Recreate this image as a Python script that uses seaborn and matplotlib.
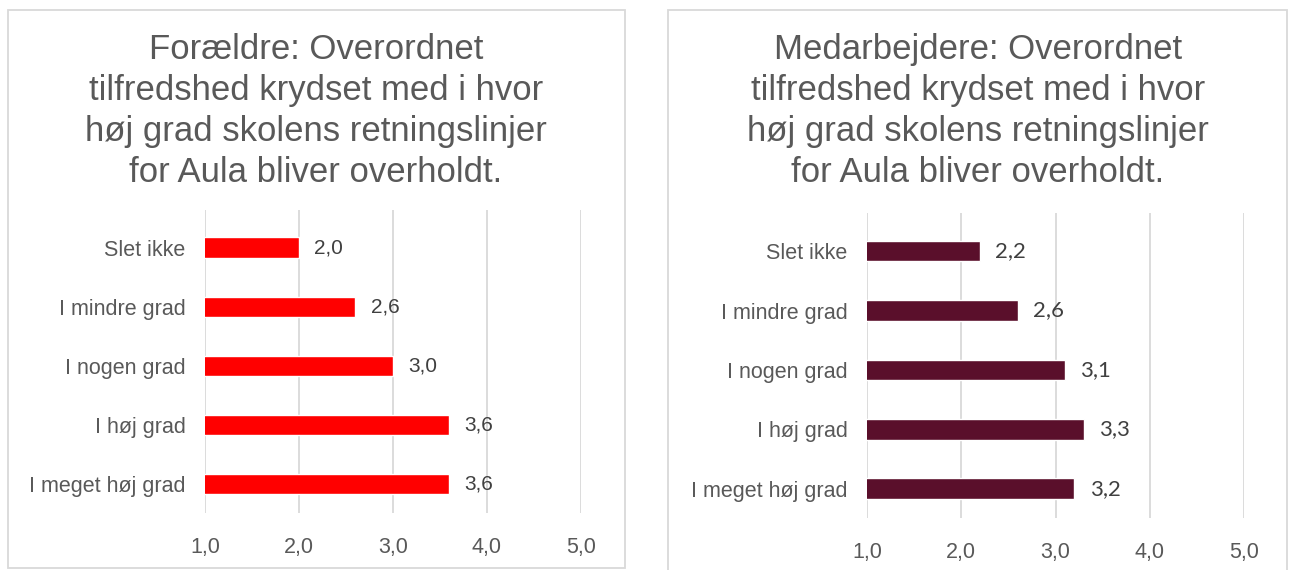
import pandas as pd
import seaborn as sns
import matplotlib.pyplot as plt
from matplotlib.patches import Rectangle

categories = ['Slet ikke', 'I mindre grad', 'I nogen grad', 'I høj grad', 'I meget høj grad']
parents = [2.0, 2.6, 3.0, 3.6, 3.6]
staff = [2.2, 2.6, 3.1, 3.3, 3.2]
xticks = [1.0, 2.0, 3.0, 4.0, 5.0]
title_parents = 'Forældre: Overordnet\ntilfredshed krydset med i hvor\nhøj grad skolens retningslinjer\nfor Aula bliver overholdt.'
title_staff = 'Medarbejdere: Overordnet\ntilfredshed krydset med i hvor\nhøj grad skolens retningslinjer\nfor Aula bliver overholdt.'

sns.set_theme(style='white')
plt.rcParams['font.family'] = ['Liberation Sans', 'DejaVu Sans']

W, H = 1289, 570
fig = plt.figure(figsize=(W / 100, H / 100), dpi=100)
fig.patch.set_facecolor('white')


def px_axes(x0, x1, top, bottom):
    return fig.add_axes([x0 / W, 1 - bottom / H, (x1 - x0) / W, (bottom - top) / H])


def panel(ax, values, color, tick_pad, value_font, value_size):
    df = pd.DataFrame({'cat': categories, 'val': values})
    sns.barplot(data=df, x='val', y='cat', orient='h', color=color, width=0.35,
                saturation=1, ax=ax)
    ax.set_xlim(1, 5)
    ax.set_ylim(4.49, -0.64)
    ax.set_xticks(xticks)
    ax.set_xticklabels([f'{t:.1f}'.replace('.', ',') for t in xticks])
    ax.set_xlabel('')
    ax.set_ylabel('')
    ax.grid(axis='x', color='#d9d9d9', linewidth=1.3)
    ax.set_axisbelow(True)
    for s in ax.spines.values():
        s.set_visible(False)
    ax.tick_params(axis='x', length=0, pad=tick_pad, labelsize=15.5, labelcolor='#595959')
    ax.tick_params(axis='y', length=0, pad=14, labelsize=15.5, labelcolor='#595959')
    ax.bar_label(ax.containers[0], labels=[f'{v:.1f}'.replace('.', ',') for v in values],
                 padding=11, fontsize=value_size, color='#404040', family=value_font)


ax1 = px_axes(205, 581, 210, 513)
panel(ax1, parents, '#ff0000', 17.5, ['Liberation Sans', 'DejaVu Sans'], 15)
ax2 = px_axes(867, 1244, 213, 518)
panel(ax2, staff, '#5a0f2b', 17, ['Lato', 'DejaVu Sans'], 16)

# panel borders
for x0, y0, x1, y1 in [(8, 10, 625, 568), (668, 10, 1287, 580)]:
    fig.patches.append(Rectangle((x0 / W, 1 - y1 / H), (x1 - x0) / W, (y1 - y0) / H,
                                 transform=fig.transFigure, fill=False,
                                 edgecolor='#d9d9d9', linewidth=1.3))

fig.text(316 / W, 1 - 111 / H, title_parents, ha='center', va='center', fontsize=25,
         color='#595959', linespacing=1.3)
fig.text(978 / W, 1 - 111 / H, title_staff, ha='center', va='center', fontsize=25,
         color='#595959', linespacing=1.3)

fig.savefig('out.png', dpi=100, facecolor='white')
